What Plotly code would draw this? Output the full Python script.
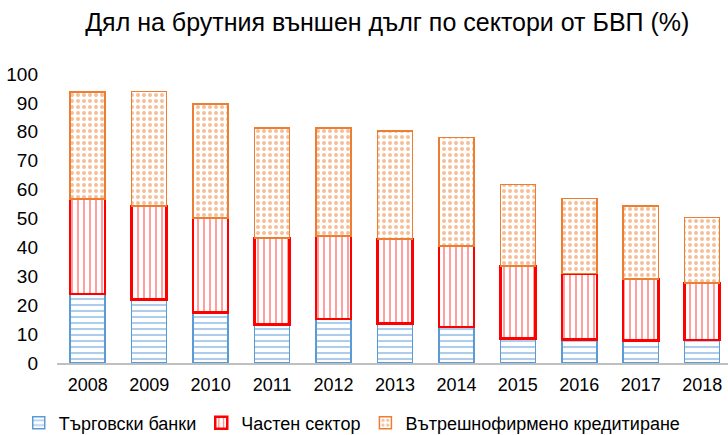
import plotly.graph_objects as go

years = ["2008", "2009", "2010", "2011", "2012", "2013", "2014", "2015", "2016", "2017", "2018"]
banks = [23.9, 22.0, 17.5, 13.4, 15.2, 13.7, 12.5, 8.5, 8.2, 7.8, 8.0]
private_sector = [32.8, 32.4, 32.6, 29.9, 28.7, 29.2, 28.0, 25.0, 22.8, 21.2, 19.6]
intercompany = [37.0, 39.6, 39.5, 38.1, 37.5, 37.4, 37.5, 28.3, 26.0, 25.4, 22.7]

series = [
    ("Търговски банки", banks, "#5B9BD5", "-", 1.5, 0.35),
    ("Частен сектор", private_sector, "#FF0000", "|", 2.5, 0.25),
    ("Вътрешнофирмено кредитиране", intercompany, "#ED7D31", ".", 1.5, 0.35),
]

fig = go.Figure()
for name, vals, color, shape, lw, solid in series:
    fig.add_trace(go.Bar(
        name=name, x=years, y=vals,
        marker=dict(
            color="white",
            line=dict(color=color, width=lw),
            pattern=dict(shape=shape, fgcolor=color, bgcolor="white",
                         size=6, solidity=solid, fillmode="overlay"),
        ),
    ))

# plot area spans y 74..435 px; the value axis occupies the upper part of it
area_h = 435 - 74
axis_bottom = (435 - 363) / area_h

fig.update_layout(
    barmode="stack",
    bargap=0.43,
    width=728, height=435,
    margin=dict(l=57, r=0, t=74, b=0, autoexpand=False),
    paper_bgcolor="white", plot_bgcolor="white",
    font=dict(family="Liberation Sans, Arial, sans-serif", color="#000000", size=18),
    title=dict(text="Дял на брутния външен дълг по сектори от БВП (%)",
               x=0.532, xanchor="center", y=0.948, yanchor="middle",
               font=dict(size=25, color="#000000")),
    showlegend=True,
    legend=dict(orientation="h", x=0.44, xanchor="center",
                y=(435 - 423) / area_h, yanchor="middle",
                font=dict(size=18), traceorder="normal", itemwidth=30),
    xaxis=dict(range=[-0.5, 10.42], showline=True, linecolor="#BFBFBF", linewidth=1.5,
               ticks="", tickfont=dict(size=18), anchor="y", automargin=False,
               ticklabelstandoff=5),
    yaxis=dict(range=[0, 100], dtick=10, showgrid=False, zeroline=False, showline=False,
               domain=[axis_bottom, 1], automargin=False,
               ticks="", tickfont=dict(size=19), ticklabelstandoff=18),
)

fig.write_html("out.html")
